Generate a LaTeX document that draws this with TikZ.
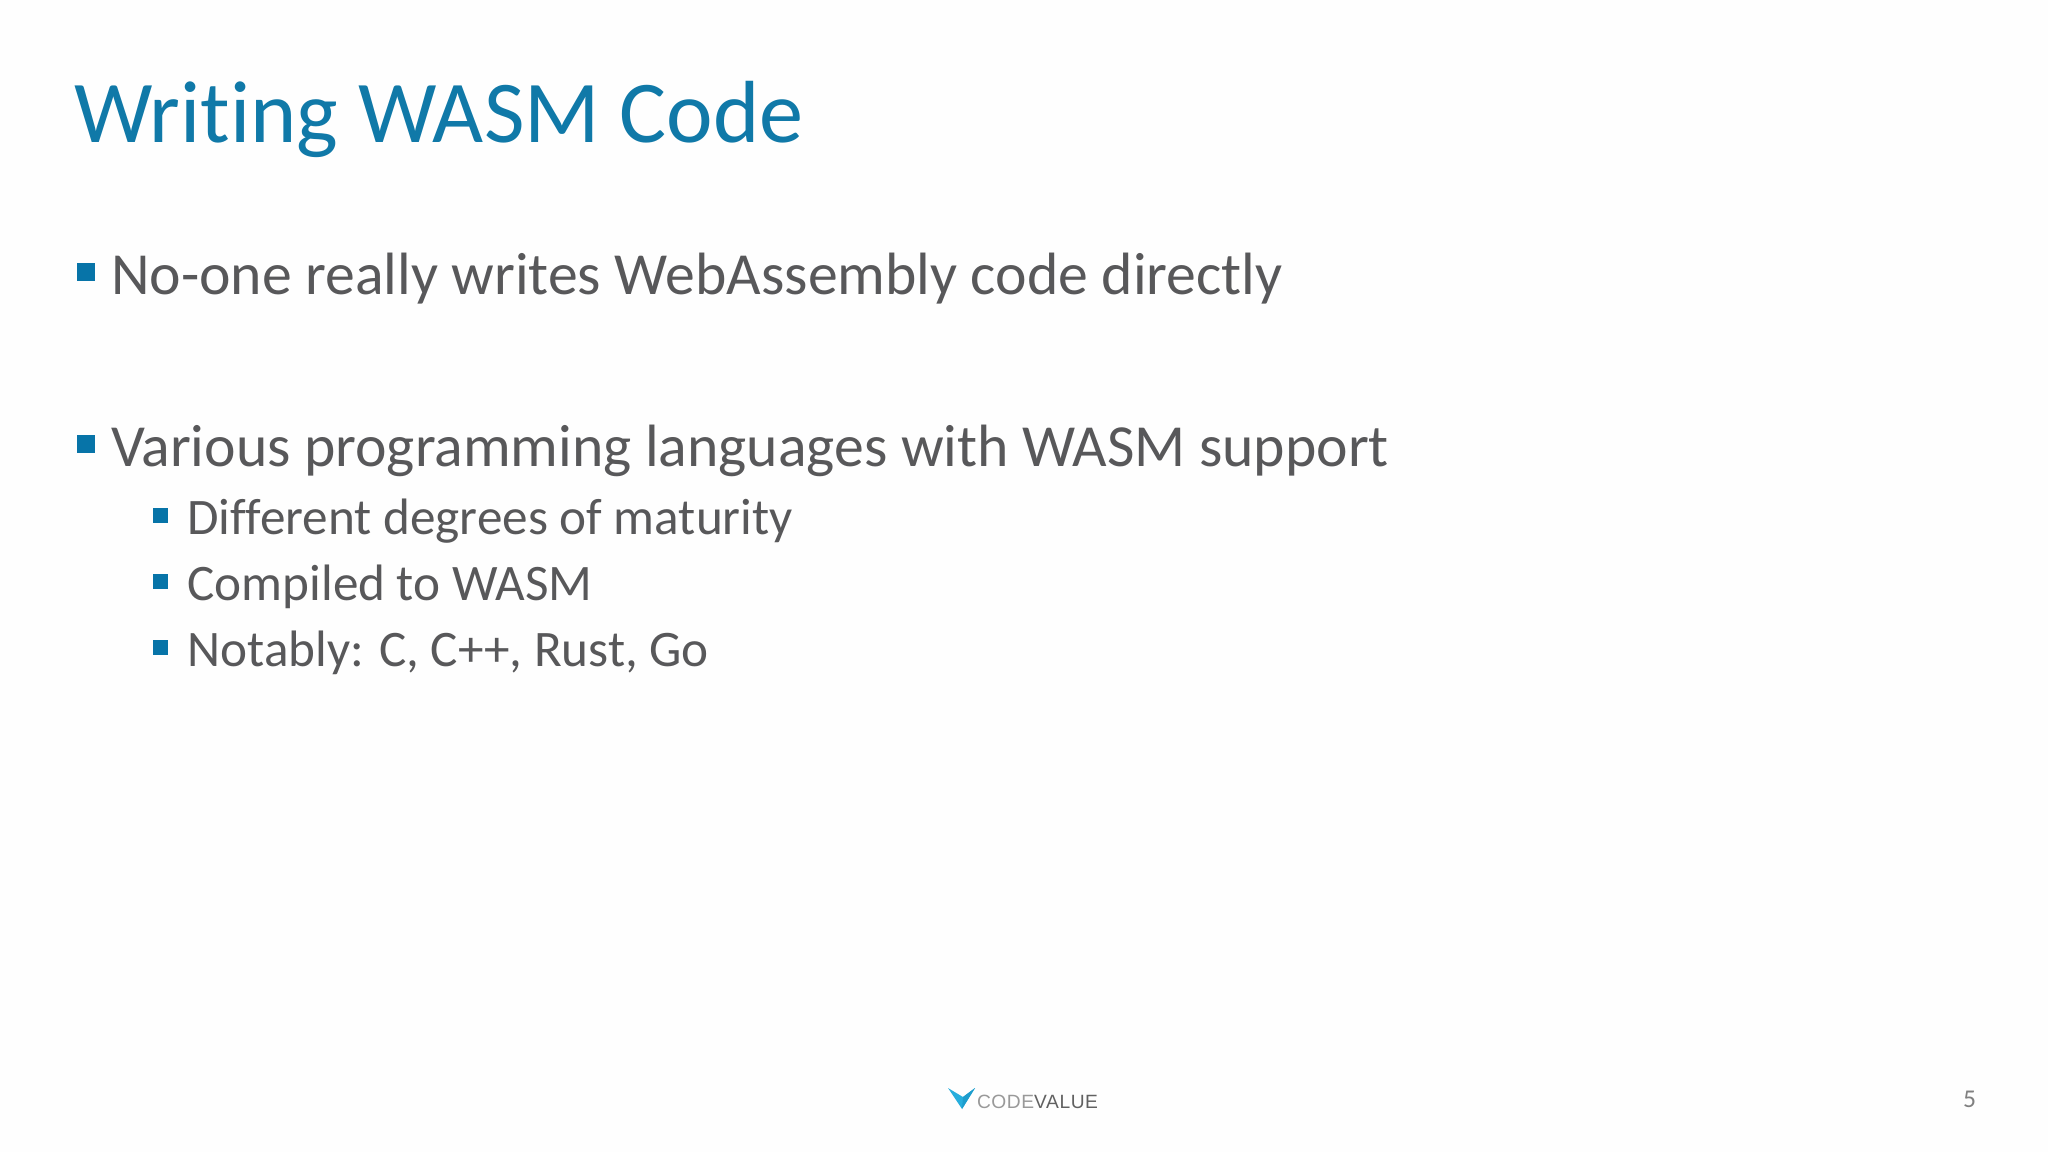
\documentclass[tikz,border=0pt]{standalone}
\usepackage{fontspec}
\usepackage{xcolor}
\setmainfont[Ligatures=NoCommon]{Carlito}
\newfontfamily\logofont[LetterSpace=3]{Liberation Sans}
\definecolor{titleblue}{HTML}{1079A8}
\definecolor{bulletblue}{HTML}{0774A8}
\definecolor{bodygrey}{HTML}{58585A}
\definecolor{logoblue}{HTML}{27AEDD}
\definecolor{slideback}{HTML}{FEFEFE}
\tikzset{
	slidetext/.style={anchor=base west, inner sep=0pt, outer sep=0pt, text=bodygrey},
	titletext/.style={slidetext, text=titleblue, font=\fontsize{44.1}{53}\selectfont},
	bodytext/.style={slidetext, font=\fontsize{29.85}{36}\selectfont},
	subtext/.style={slidetext, font=\fontsize{25.6}{31}\selectfont},
	bigbullet/.style={fill=bulletblue, draw=none, inner sep=0pt, minimum size=9pt},
	smallbullet/.style={fill=bulletblue, draw=none, inner sep=0pt, minimum size=7.5pt},
}
\begin{document}
\begin{tikzpicture}[x=0.5pt,y=-0.5pt]
	\useasboundingbox[fill=slideback] (0,0) rectangle (2048,1152);
	\node[titletext] (title) at (74,142) {Writing WASM Code};
	% first level
	\node[bigbullet] (bulletA) at (85.5,272) {};
	\node[bodytext] (itemA) at (111,294) {No-one really writes WebAssembly code directly};
	\node[bigbullet] (bulletB) at (85.5,444) {};
	\node[bodytext] (itemB) at (111,466) {Various programming languages with WASM support};
	% second level
	\node[smallbullet] (bulletC) at (160.5,515.5) {};
	\node[subtext] (itemC) at (187.5,534) {Different degrees of maturity};
	\node[smallbullet] (bulletD) at (160.5,581.5) {};
	\node[subtext] (itemD) at (187.5,600) {Compiled to WASM};
	\node[smallbullet] (bulletE) at (160.5,647.5) {};
	\node[subtext] (itemE) at (187.5,666) {Notably: C, C++, Rust, Go};
	% footer
	\fill[logoblue] (948,1088) -- (963,1097) -- (975,1088) -- (962,1109) -- cycle;
	\fill[logoblue!70!bulletblue] (963,1097) -- (975,1088) -- (962,1109) -- cycle;
	\node[slidetext, text=black!40, font=\logofont\fontsize{9.6}{10}\selectfont] (logoA) at (977,1108) {CODE};
	\node[slidetext, text=black!62, font=\logofont\fontsize{9.6}{10}\selectfont] (logoB) at (logoA.base east) {VALUE};
	\node[slidetext, text=black!50, font=\fontsize{12.8}{15}\selectfont] (pagenum) at (1963,1107) {5};
\end{tikzpicture}
\end{document}
